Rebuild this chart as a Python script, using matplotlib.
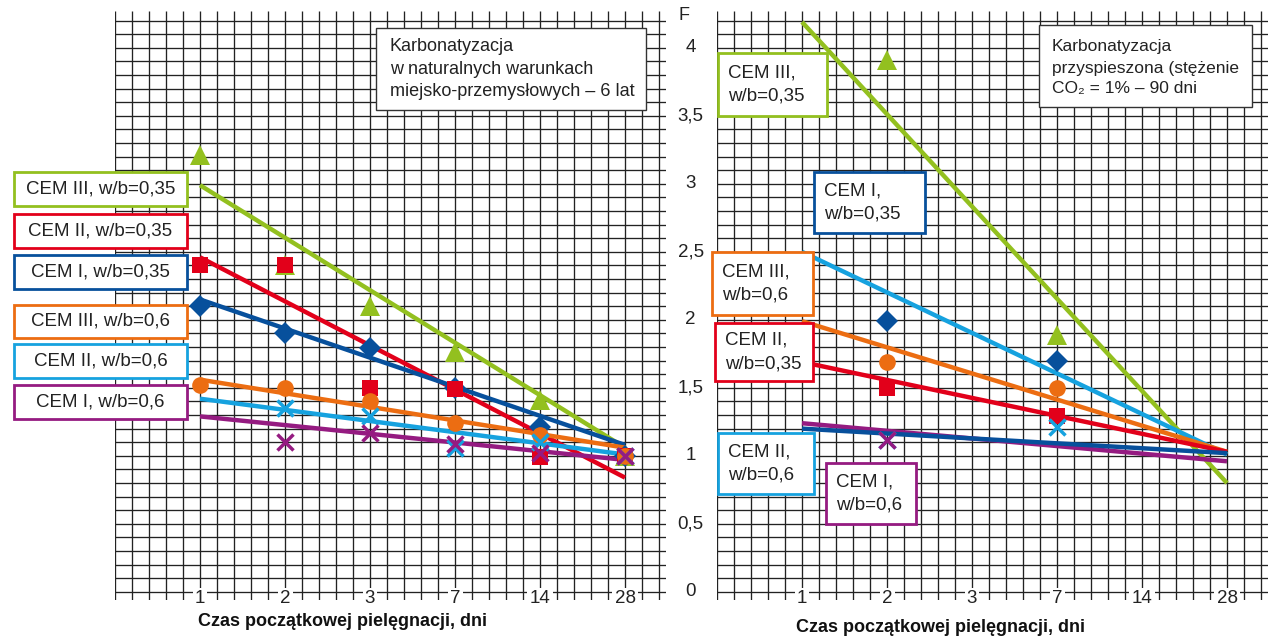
import numpy as np
import matplotlib
matplotlib.use("Agg")
import matplotlib.pyplot as plt
from matplotlib.patches import Rectangle

plt.rcParams['font.family'] = ['Liberation Sans', 'DejaVu Sans']

# curing time categories (x axis)
days = ['1', '2', '3', '7', '14', '28']
y_ticks = [0, 0.5, 1, 1.5, 2, 2.5, 3, 3.5, 4]
y_tick_labels = ['0', '0,5', '1', '1,5', '2', '2,5', '3', '3,5', '4']

nan = np.nan

# left panel: natural carbonation, 6 years (measured points)
nat_cem3_035 = [3.21, 2.40, 2.10, 1.76, 1.41, 1.00]
nat_cem2_035 = [2.40, 2.40, 1.50, 1.49, 0.99, 1.00]
nat_cem1_035 = [2.10, 1.90, 1.79, 1.50, 1.21, 1.00]
nat_cem3_06 = [1.52, 1.50, 1.40, 1.24, 1.15, 1.00]
nat_cem2_06 = [nan, 1.35, 1.29, 1.06, 1.10, 1.00]
nat_cem1_06 = [nan, 1.10, 1.17, 1.09, 1.02, 1.00]

# left panel fit lines (value at day 1, value at day 28)
nat_fit_cem3_035 = [2.99, 1.06]
nat_fit_cem2_035 = [2.46, 0.84]
nat_fit_cem1_035 = [2.15, 1.08]
nat_fit_cem3_06 = [1.56, 1.06]
nat_fit_cem2_06 = [1.42, 1.01]
nat_fit_cem1_06 = [1.29, 0.97]

# right panel: accelerated carbonation (measured points)
acc_cem3_035 = [nan, 3.91, nan, 1.89, nan, nan]
acc_cem1_035 = [nan, 1.99, nan, 1.70, nan, nan]
acc_cem3_06 = [nan, 1.69, nan, 1.50, nan, nan]
acc_cem2_035 = [nan, 1.50, nan, 1.29, nan, nan]
acc_cem2_06 = [nan, 1.12, nan, 1.21, nan, nan]
acc_cem1_06 = [nan, 1.12, nan, nan, nan, nan]

# right panel fit lines
acc_fit_cem3_035 = [4.19, 0.80]
acc_fit_cem2_06 = [2.50, 1.01]
acc_fit_cem3_06 = [1.99, 1.03]
acc_fit_cem2_035 = [1.69, 1.03]
acc_fit_cem1_06 = [1.24, 0.96]
acc_fit_cem1_035 = [1.20, 1.02]

GREEN = '#93c01f'
RED = '#e2001a'
DBLUE = '#07509c'
ORANGE = '#ec6d12'
LBLUE = '#16a2df'
PURPLE = '#951b81'

W, H = 1268, 640
fig = plt.figure(figsize=(W / 100, H / 100), dpi=100)

XMIN, XMAX = -1.0, 5.48
YMIN, YMAX = -0.06, 4.27
ax_w = (XMAX - XMIN) * 85 / W
ax_b = (H - 600) / H
ax_h = (YMAX - YMIN) * 136 / H

ax1 = fig.add_axes([115 / W, ax_b, ax_w, ax_h])
ax2 = fig.add_axes([717 / W, ax_b, ax_w, ax_h])

idx = np.arange(len(days))
fit_x = [0, len(days) - 1]


def draw_grid(ax):
    ax.set_xlim(XMIN, XMAX)
    ax.set_ylim(YMIN, YMAX)
    ax.axis('off')
    ax.hlines(np.arange(0, 4.21, 0.1), XMIN, XMAX, color='#222222', lw=0.95, zorder=1)
    ax.vlines(np.arange(-1.0, 5.41, 0.2), YMIN, YMAX, color='#222222', lw=0.95, zorder=1)
    for i, d in enumerate(days):
        ax.text(i, -0.05, d, ha='center', va='center', fontsize=13.5, color='#222222', zorder=6,
                bbox=dict(boxstyle='square,pad=0.12', fc='white', ec='none'))


def draw_points(ax, vals, marker, color, ms, mew=0):
    if marker == 'x':
        ax.plot(idx, vals, ls='none', marker='x', color=color, ms=ms, mew=mew, zorder=4)
    else:
        ax.plot(idx, vals, ls='none', marker=marker, color=color, ms=ms, mew=0, zorder=4)


draw_grid(ax1)
draw_grid(ax2)

# left panel
for fit, col in [(nat_fit_cem3_035, GREEN), (nat_fit_cem2_035, RED), (nat_fit_cem1_035, DBLUE),
                 (nat_fit_cem3_06, ORANGE), (nat_fit_cem2_06, LBLUE), (nat_fit_cem1_06, PURPLE)]:
    ax1.plot(fit_x, fit, color=col, lw=3.2, solid_capstyle='butt', zorder=3)

draw_points(ax1, nat_cem3_035, '^', GREEN, 14)
draw_points(ax1, nat_cem1_035, 'D', DBLUE, 11.5)
draw_points(ax1, nat_cem2_035, 's', RED, 11.5)
draw_points(ax1, nat_cem3_06, 'o', ORANGE, 12)
draw_points(ax1, nat_cem2_06, 'x', LBLUE, 11, 2.5)
draw_points(ax1, nat_cem1_06, 'x', PURPLE, 11, 2.5)

# right panel
for fit, col in [(acc_fit_cem3_035, GREEN), (acc_fit_cem2_06, LBLUE), (acc_fit_cem3_06, ORANGE),
                 (acc_fit_cem2_035, RED), (acc_fit_cem1_06, PURPLE), (acc_fit_cem1_035, DBLUE)]:
    ax2.plot(fit_x, fit, color=col, lw=3.2, solid_capstyle='butt', zorder=3)

draw_points(ax2, acc_cem3_035, '^', GREEN, 14)
draw_points(ax2, acc_cem1_035, 'D', DBLUE, 11.5)
draw_points(ax2, acc_cem3_06, 'o', ORANGE, 12)
draw_points(ax2, acc_cem2_035, 's', RED, 11.5)
draw_points(ax2, acc_cem2_06, 'x', LBLUE, 11, 2.5)
draw_points(ax2, acc_cem1_06, 'x', PURPLE, 11, 2.5)

# y labels between panels
for v, lab in zip(y_ticks, y_tick_labels):
    ax2.text(-1.31, v, lab, ha='center', va='center', fontsize=13.5, color='#222222')
ax2.text(-1.39, 4.24, 'F', ha='center', va='center', fontsize=13, color='#222222')


def px_box(x0, y0, x1, y1, ec, lw=2.0):
    r = Rectangle((x0 / W, 1 - y1 / H), (x1 - x0) / W, (y1 - y0) / H, transform=fig.transFigure,
                  fc='white', ec=ec, lw=lw, zorder=5)
    fig.add_artist(r)


# left legend boxes
left_boxes = [('CEM III, w/b=0,35', GREEN, 172, 206), ('CEM II, w/b=0,35', RED, 214, 248),
              ('CEM I, w/b=0,35', DBLUE, 255, 289), ('CEM III, w/b=0,6', ORANGE, 305, 338),
              ('CEM II, w/b=0,6', LBLUE, 344, 378), ('CEM I, w/b=0,6', PURPLE, 385, 419)]
for lab, col, y0, y1 in left_boxes:
    px_box(14, y0, 187, y1, col)
    fig.text(100.5 / W, 1 - (y0 + y1) / 2 / H, lab, ha='center', va='center', fontsize=13.5,
             color='#222222', zorder=6)

# right legend boxes
right_boxes = [('CEM III,\nw/b=0,35', GREEN, 718, 53, 827, 116),
               ('CEM I,\nw/b=0,35', DBLUE, 814, 172, 925, 233),
               ('CEM III,\nw/b=0,6', ORANGE, 712, 252, 813, 315),
               ('CEM II,\nw/b=0,35', RED, 715, 323, 813, 381),
               ('CEM II,\nw/b=0,6', LBLUE, 718, 433, 814, 494),
               ('CEM I,\nw/b=0,6', PURPLE, 826, 463, 916, 524)]
for lab, col, x0, y0, x1, y1 in right_boxes:
    px_box(x0, y0, x1, y1, col)
    fig.text((x0 + 10) / W, 1 - (y0 + y1) / 2 / H, lab, ha='left', va='center', fontsize=13.5,
             color='#222222', linespacing=1.5, zorder=6)

# info boxes
px_box(376, 28, 646, 110, '#333333', lw=1.0)
fig.text(390 / W, 1 - 69 / H, 'Karbonatyzacja\nw naturalnych warunkach\nmiejsko-przemysłowych – 6 lat',
         ha='left', va='center', fontsize=13, color='#222222', linespacing=1.45, zorder=6)
px_box(1039, 25, 1252, 107, '#333333', lw=1.0)
fig.text(1052 / W, 1 - 68 / H, 'Karbonatyzacja\nprzyspieszona (stężenie\nCO₂ = 1% – 90 dni',
         ha='left', va='center', fontsize=12.5, color='#222222', linespacing=1.5, zorder=6)

# x axis titles
fig.text(343 / W, 1 - 622 / H, 'Czas początkowej pielęgnacji, dni', ha='center', va='center',
         fontsize=13, fontweight='bold', color='#111111')
fig.text(940 / W, 1 - 628 / H, 'Czas początkowej pielęgnacji, dni', ha='center', va='center',
         fontsize=13, fontweight='bold', color='#111111')

fig.savefig('out.png', dpi=100)
